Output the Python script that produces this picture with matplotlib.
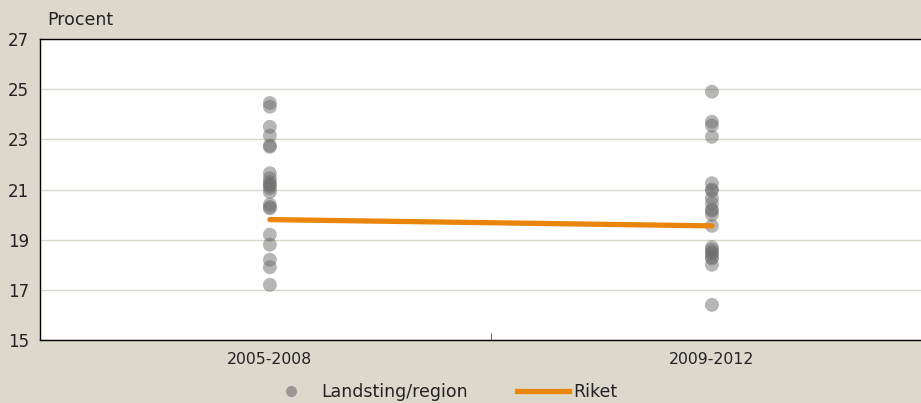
import numpy as np
import matplotlib.pyplot as plt
from matplotlib.lines import Line2D

periods = ['2005-2008', '2009-2012']
regions_0508 = [24.45, 24.3, 23.5, 23.15, 22.75, 22.7, 21.65, 21.45, 21.3, 21.2, 21.15,
                21.05, 20.9, 20.4, 20.3, 20.25, 19.2, 18.8, 18.2, 17.9, 17.2]
regions_0912 = [24.9, 23.7, 23.55, 23.1, 21.25, 21.0, 20.95, 20.65, 20.45, 20.2, 20.15,
                20.0, 19.55, 18.7, 18.6, 18.5, 18.45, 18.3, 18.25, 18.0, 16.4]
riket = [19.8, 19.55]

bg = '#dcd9cc'
plt.rcParams['font.family'] = ['DejaVu Sans']

fig = plt.figure(figsize=(9.21, 4.03), dpi=100, facecolor=bg)
ax = fig.add_axes([40 / 921, 63 / 403, 1 - 40 / 921, 301 / 403])
ax.set_facecolor('white')

for i, vals in enumerate([regions_0508, regions_0912]):
    ax.scatter([i] * len(vals), vals, s=100, color='#6e6e6e', alpha=0.5,
               edgecolors='none', zorder=3)
ax.plot([0, 1], riket, color='#e8850a', lw=3.8, solid_capstyle='round', zorder=4)

ax.set_ylim(15, 27)
ax.set_yticks(np.arange(15, 28, 2))
ax.set_xlim(-0.52, 1.473)
ax.set_xticks([0, 1])
ax.set_xticklabels(periods)
ax.set_xticks([0.5], minor=True)
ax.tick_params(axis='x', which='major', length=0, pad=9, labelsize=11.3, colors='#222222')
ax.tick_params(axis='x', which='minor', length=5, direction='in', color='#444444')
ax.tick_params(axis='y', length=0, pad=8, labelsize=12, colors='#222222')
ax.grid(axis='y', color='#d9d6ca', lw=1)
ax.set_axisbelow(True)

for s in ['left', 'bottom', 'top']:
    ax.spines[s].set_color('black')
    ax.spines[s].set_linewidth(1)
ax.spines['right'].set_visible(False)

fig.text(47 / 921, 1 - 20 / 403, 'Procent', fontsize=12.5, color='#222222', va='center')

handles = [
    Line2D([], [], marker='o', ls='none', color='#9a9a92', markersize=7),
    Line2D([], [], color='#e8850a', lw=3.8),
]
fig.legend(handles, ['Landsting/region', 'Riket'], loc='center', bbox_to_anchor=(0.479, 1 - 392 / 403),
           ncol=2, frameon=False, fontsize=12.5, handlelength=3.0, columnspacing=2.8,
           labelcolor='#222222', handletextpad=0.25)

fig.savefig('out.png', dpi=100, facecolor=bg)
